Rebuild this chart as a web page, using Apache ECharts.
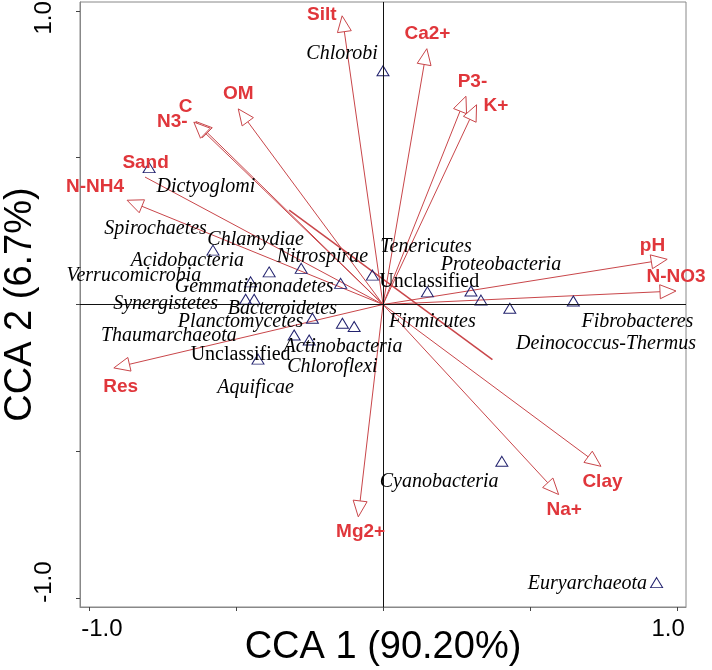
<!DOCTYPE html>
<html>
<head>
<meta charset="utf-8">
<script src="https://cdn.jsdelivr.net/npm/echarts@6.0.0/dist/echarts.min.js"></script>
<style>
html, body { margin: 0; padding: 0; background: #fff; }
#cca { width: 712px; height: 670px; }
</style>
</head>
<body>
<div id="cca"></div>
<script>
// phyla scores (triangles)
var phylaX = [0.000, -0.795, -0.578, -0.387, -0.278, -0.450, -0.144, -0.036, -0.467, -0.438, -0.240, -0.138,
    -0.098, -0.302, -0.251, -0.425, 0.151, 0.299, 0.333, 0.431, 0.647, 0.404, 0.930];
var phylaY = [0.796, 0.466, 0.185, 0.111, 0.123, 0.077, 0.072, 0.100, 0.018, 0.018, -0.047, -0.064,
    -0.075, -0.104, -0.121, -0.186, 0.043, 0.046, 0.015, -0.013, 0.012, -0.534, -0.947];

// phyla names and where their labels sit
var phylaNames = ['Chlorobi', 'Dictyoglomi', 'Spirochaetes', 'Chlamydiae', 'Acidobacteria', 'Nitrospirae',
    'Verrucomicrobia', 'Gemmatimonadetes', 'Synergistetes', 'Bacteroidetes', 'Planctomycetes', 'Thaumarchaeota',
    'Unclassified', 'Actinobacteria', 'Chloroflexi', 'Aquificae', 'Tenericutes', 'Unclassified', 'Proteobacteria',
    'Firmicutes', 'Fibrobacteres', 'Deinococcus-Thermus', 'Cyanobacteria', 'Euryarchaeota'];
var phylaLabelX = [-0.139, -0.602, -0.773, -0.433, -0.665, -0.206, -0.847, -0.438, -0.739, -0.342, -0.484, -0.728,
    -0.484, -0.136, -0.172, -0.433, 0.146, 0.157, 0.401, 0.168, 0.865, 0.758, 0.191, 0.695];
var phylaLabelY = [0.854, 0.400, 0.259, 0.219, 0.149, 0.162, 0.097, 0.060, 0.002, -0.013, -0.058, -0.107,
    -0.171, -0.144, -0.211, -0.285, 0.196, 0.077, 0.134, -0.058, -0.058, -0.132, -0.602, -0.950];

// environmental vectors (arrow tips)
var envNames = ['Silt', 'Ca2+', 'P3-', 'K+', 'OM', 'C', 'N3-', 'Sand', 'N-NH4', 'Res', 'pH', 'N-NO3', 'Clay', 'Na+', 'Mg2+'];
var envX = [-0.139, 0.149, 0.282, 0.318, -0.492, -0.636, -0.643, -0.809, -0.870, -0.915, 0.966, 0.996, 0.741, 0.597, -0.084];
var envY = [0.983, 0.871, 0.709, 0.680, 0.666, 0.623, 0.621, 0.434, 0.355, -0.216, 0.154, 0.046, -0.551, -0.647, -0.723];
var envLabelX = [-0.208, 0.151, 0.304, 0.384, -0.492, -0.671, -0.716, -0.807, -0.979, -0.892, 0.916, 0.996, 0.746, 0.616, -0.076];
var envLabelY = [0.986, 0.921, 0.759, 0.677, 0.717, 0.672, 0.621, 0.483, 0.400, -0.281, 0.199, 0.094, -0.602, -0.698, -0.773];
var noHead = ['Sand'];

// loose segment that shows in the original figure
var strayX = [-0.319, 0.372];
var strayY = [0.321, -0.188];

var tickVals = [-1, -0.5, 0, 0.5, 1];
var labelVals = [-1, 1];

var red = '#e0363b';
var arrowRed = '#c9464a';
var sans = 'Liberation Sans, Arial, sans-serif';
var serif = 'Liberation Serif, Times New Roman, serif';

var chart = echarts.init(document.getElementById('cca'));

var arrowData = envNames.map(function (n, i) { return [envX[i], envY[i], n]; });

function renderArrow(params, api) {
    var o = api.coord([0, 0]);
    var t = api.coord([api.value(0), api.value(1)]);
    var dx = t[0] - o[0], dy = t[1] - o[1];
    var len = Math.sqrt(dx * dx + dy * dy);
    var ux = dx / len, uy = dy / len;
    var hl = 16, hw = 7;
    var head = noHead.indexOf(envNames[params.dataIndex]) < 0;
    var bx = t[0] - ux * hl, by = t[1] - uy * hl;
    var kids = [{
        type: 'line',
        shape: { x1: o[0], y1: o[1], x2: head ? bx : t[0], y2: head ? by : t[1] },
        style: { stroke: arrowRed, lineWidth: 1 }
    }];
    if (head) {
        kids.push({
            type: 'polygon',
            shape: { points: [[t[0], t[1]], [bx - uy * hw, by + ux * hw], [bx + uy * hw, by - ux * hw]] },
            style: { fill: '#fff', stroke: arrowRed, lineWidth: 1 }
        });
    }
    return { type: 'group', children: kids };
}

var option = {
    backgroundColor: '#fff',
    animation: false,
    grid: {
        left: 80, right: 26, top: 2, bottom: 63, containLabel: false, outerBoundsMode: 'none',
        show: true, borderColor: '#888', borderWidth: 1, backgroundColor: 'transparent'
    },
    xAxis: {
        type: 'value', min: -1.03, max: 1.03,
        name: 'CCA 1 (90.20%)', nameLocation: 'middle', nameGap: 22, nameMoveOverlap: false,
        nameTextStyle: { fontFamily: sans, fontSize: 38, color: '#000' },
        axisLine: { onZero: false, lineStyle: { color: '#888' } },
        axisTick: { customValues: tickVals, length: 4, lineStyle: { color: '#444' } },
        axisLabel: {
            customValues: labelVals, margin: 10,
            formatter: function (v) { return v < 0 ? '{a|-1.0}' : '{b|1.0}'; },
            rich: {
                a: { fontFamily: sans, fontSize: 24, color: '#000', padding: [0, 0, 0, 26] },
                b: { fontFamily: sans, fontSize: 24, color: '#000', padding: [0, 18, 0, 0] }
            }
        },
        splitLine: { show: false }
    },
    yAxis: {
        type: 'value', min: -1.03, max: 1.03,
        name: 'CCA 2 (6.7%)', nameLocation: 'middle', nameGap: 40, nameMoveOverlap: false,
        nameTextStyle: { fontFamily: sans, fontSize: 38, color: '#000' },
        axisLine: { onZero: false, lineStyle: { color: '#888' } },
        axisTick: { customValues: tickVals, length: 4, lineStyle: { color: '#444' } },
        axisLabel: {
            customValues: labelVals, rotate: 90, margin: 24,
            formatter: function (v) { return v < 0 ? '{a|-1.0}' : '{b|1.0}'; },
            rich: {
                a: { fontFamily: sans, fontSize: 24, color: '#000', padding: [0, 0, 0, 32] },
                b: { fontFamily: sans, fontSize: 24, color: '#000', padding: [0, 14, 0, 0] }
            }
        },
        splitLine: { show: false }
    },
    series: [
        {
            type: 'custom',
            renderItem: renderArrow,
            data: arrowData,
            encode: { x: 0, y: 1 },
            z: 3
        },
        {
            type: 'line',
            data: strayX.map(function (x, i) { return [x, strayY[i]]; }),
            symbol: 'none',
            lineStyle: { color: arrowRed, width: 1.5 },
            z: 3
        },
        {
            type: 'scatter',
            symbol: 'triangle',
            symbolSize: [12, 10],
            data: phylaX.map(function (x, i) { return [x, phylaY[i]]; }),
            itemStyle: { color: 'rgba(255,255,255,0)', borderColor: '#22226e', borderWidth: 1, opacity: 1 },
            z: 4,
            markLine: {
                silent: true, symbol: 'none', label: { show: false },
                lineStyle: { color: '#111', width: 1, type: 'solid', opacity: 1 },
                data: [{ xAxis: 0 }, { yAxis: 0 }]
            }
        },
        {
            type: 'scatter',
            symbolSize: 0,
            itemStyle: { opacity: 1 },
            data: phylaNames.map(function (n, i) {
                return {
                    name: n, value: [phylaLabelX[i], phylaLabelY[i]],
                    label: { fontStyle: n === 'Unclassified' ? 'normal' : 'italic' }
                };
            }),
            label: { show: true, position: 'inside', formatter: '{b}', fontFamily: serif, fontSize: 20, color: '#000', opacity: 1 },
            z: 5
        },
        {
            type: 'scatter',
            symbolSize: 0,
            itemStyle: { opacity: 1 },
            data: envNames.map(function (n, i) { return { name: n, value: [envLabelX[i], envLabelY[i]] }; }),
            label: { show: true, position: 'inside', formatter: '{b}', fontFamily: sans, fontWeight: 'bold', fontSize: 19, color: red, opacity: 1 },
            z: 5
        }
    ]
};

chart.setOption(option);
</script>
</body>
</html>
